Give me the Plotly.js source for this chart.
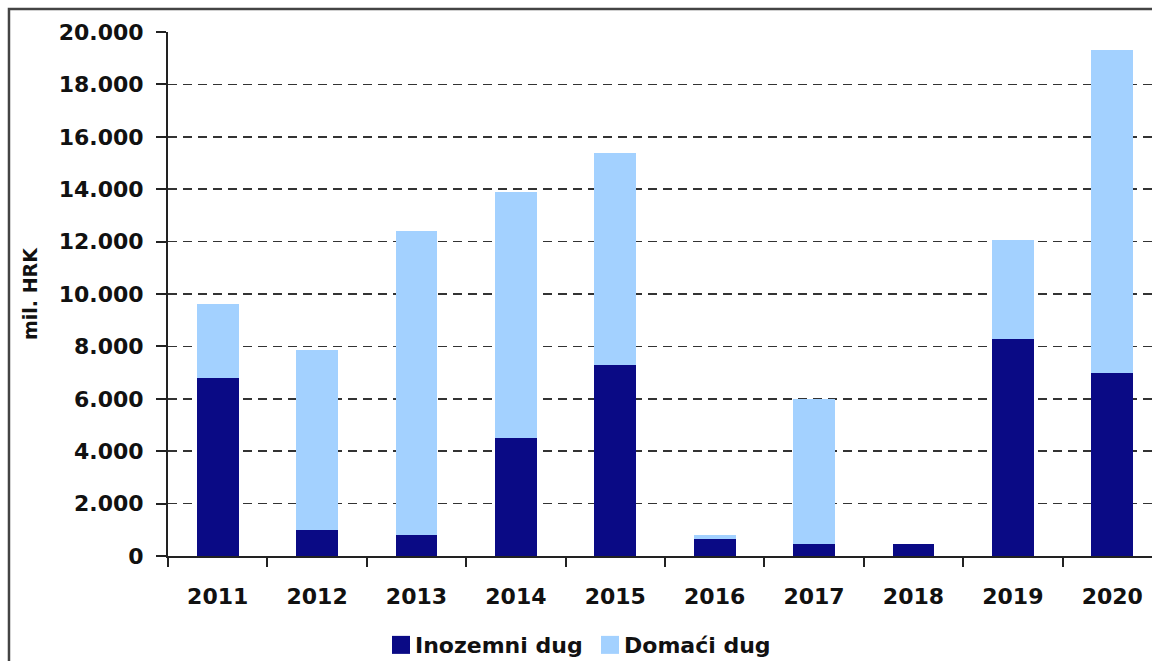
<!DOCTYPE html>
<html>
<head>
<meta charset="utf-8">
<script src="https://cdn.plot.ly/plotly-3.0.1.min.js"></script>
<style>
html,body{margin:0;padding:0;background:#fff;}
#chart{width:1152px;height:661px;}
</style>
</head>
<body>
<div id="chart"></div>
<script>
const years = ['2011','2012','2013','2014','2015','2016','2017','2018','2019','2020'];
const inozemniDug = [6800, 1000, 800, 4500, 7300, 650, 450, 450, 8300, 7000];
const domaciDug = [2800, 6850, 11600, 9400, 8100, 150, 5550, 0, 3750, 12300];
const seriesNames = ['Inozemni dug', 'Domaći dug'];
const yTitle = 'mil. HRK';

const fam = 'DejaVu Sans, Verdana, sans-serif';

const traces = [
  {type: 'bar', name: seriesNames[0], x: years, y: inozemniDug, width: 0.42,
   marker: {color: '#0a0a85', line: {width: 0}}},
  {type: 'bar', name: seriesNames[1], x: years, y: domaciDug, width: 0.42,
   marker: {color: '#a3d1ff', line: {width: 0}}}
];

const layout = {
  width: 1152, height: 661,
  margin: {l: 168, r: 0, t: 32, b: 105, autoexpand: false},
  paper_bgcolor: '#fff', plot_bgcolor: '#fff',
  barmode: 'stack',
  separators: ',.',
  showlegend: true,
  legend: {orientation: 'h', x: (375 - 168) / 984, xanchor: 'left', y: -0.17, yanchor: 'middle',
    font: {family: fam, size: 22, color: '#111', weight: 'bold'}, traceorder: 'normal',
    entrywidth: 164, entrywidthmode: 'pixels', borderwidth: 0, itemclick: false},
  font: {family: fam, color: '#111'},
  xaxis: {
    type: 'category', range: [-0.5, 9.4],
    showline: true, linecolor: '#222', linewidth: 2,
    ticks: 'outside', tickson: 'boundaries', ticklen: 9, tickwidth: 2, tickcolor: '#222',
    showgrid: false, zeroline: false,
    tickfont: {family: fam, size: 22, color: '#111', weight: 'bold'},
    ticklabelstandoff: 20
  },
  yaxis: {
    range: [0, 20000], dtick: 2000, tickformat: ',d',
    showline: true, linecolor: '#222', linewidth: 2,
    ticks: 'outside', ticklen: 10, tickwidth: 2, tickcolor: '#222',
    showgrid: true, gridcolor: '#333', gridwidth: 1.5, griddash: '9px,6px',
    zeroline: false,
    tickfont: {family: fam, size: 22, color: '#111', weight: 'bold'},
    ticklabelstandoff: 8,
    title: {text: yTitle, font: {family: fam, size: 19, color: '#111', weight: 'bold'}, standoff: 16},
    automargin: false
  },
  shapes: [
    {type: 'rect', xref: 'paper', yref: 'paper', x0: -0.1616, x1: 1.05, y0: -0.3, y1: 1.0439,
     line: {color: '#444', width: 2.5}, fillcolor: 'rgba(0,0,0,0)', layer: 'above'}
  ]
};

Plotly.newPlot('chart', traces, layout, {displayModeBar: false, staticPlot: true}).then(function (gd) {
  gd.querySelectorAll('.legend .legendpoints path').forEach(function (p) {
    p.setAttribute('d', 'M15,9H-3V-9H15Z');
  });
});
</script>
</body>
</html>
